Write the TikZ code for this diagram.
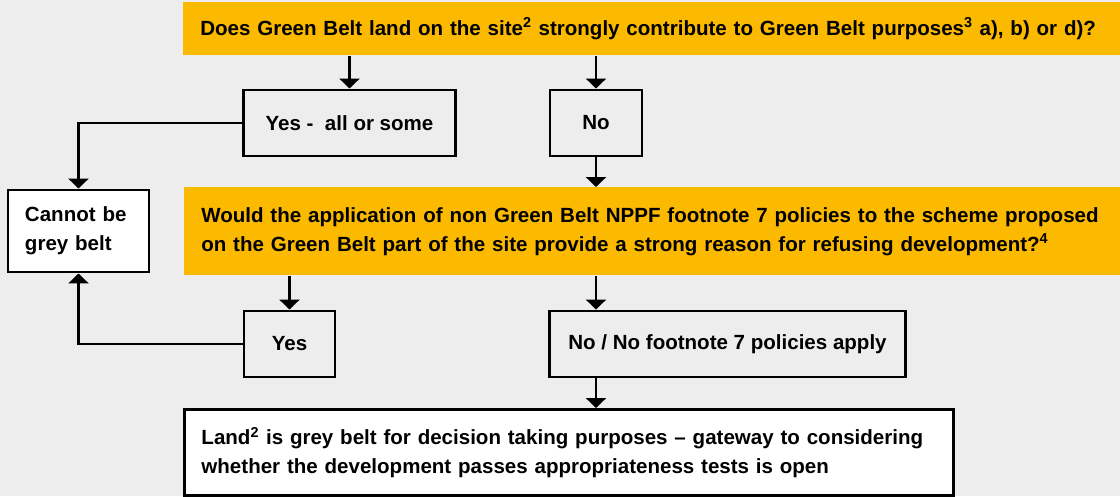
\documentclass[tikz,border=0pt]{standalone}
\usepackage{fontspec}
\setmainfont{Liberation Sans}
\usetikzlibrary{arrows.meta}

\definecolor{beltyellow}{HTML}{FBB900}
\definecolor{beltgrey}{HTML}{EDEDED}

\tikzset{
  every node/.style={font=\fontsize{14.6pt}{20.6pt}\selectfont\bfseries},
  question/.style={fill=beltyellow, inner xsep=0.425cm, align=left, anchor=north west},
  answer/.style={draw, line width=2.1pt, fill=beltgrey, minimum height=1.65cm},
  outcome/.style={draw, line width=2.1pt, fill=white, inner xsep=0.425cm, align=left},
  link/.style={line width=1.8pt, -{Triangle[width=0.5cm,length=0.25cm]}}
}

\begin{document}
\begin{tikzpicture}[x=0.025cm, y=-0.025cm]
  \fill[beltgrey] (0,0) rectangle (1120,496);
  \useasboundingbox (0,0) rectangle (1120,496);

  % questions
  \node[question, text width=22.7cm, minimum height=1.325cm] (q1) at (183,2)
    {Does Green Belt land on the site\textsuperscript{2} strongly contribute to Green Belt purposes\textsuperscript{3} a), b) or d)?};
  \node[question, text width=22.7cm, minimum height=2.2cm] (q2) at (184,187)
    {Would the application of non Green Belt NPPF footnote 7 policies to the scheme proposed\\
     on the Green Belt part of the site provide a strong reason for refusing development?\textsuperscript{4}};

  % answers
  \node[answer, minimum width=5.275cm] (yesA) at (349.5,123) {Yes -~ all or some};
  \node[answer, minimum width=2.3cm] (noA) at (596,123) {No};
  \node[answer, minimum width=2.275cm] (yesB) at (289.5,344) {Yes};
  \node[answer, minimum width=8.875cm] (noB) at (727.5,344) {No / No footnote 7 policies apply};

  % outcomes
  \node[outcome, text width=2.675cm, minimum width=3.525cm, minimum height=2.05cm] (cannot) at (78.5,231)
    {Cannot be\\grey belt};
  \node[outcome, anchor=north west, text width=18.375cm, minimum height=2.15cm] (land) at (183,408)
    {Land\textsuperscript{2} is grey belt for decision taking purposes -- gateway to considering\\
     whether the development passes appropriateness tests is open};

  % connectors
  \draw[link] (q1.south -| yesA.north) -- (yesA.north);
  \draw[link] (q1.south -| noA.north) -- (noA.north);
  \draw[link] (noA.south) -- (noA.south |- q2.north);
  \draw[link] (yesA.west) -| (cannot.north);
  \draw[link] (q2.south -| yesB.north) -- (yesB.north);
  \draw[link] (q2.south -| noA.south) -- (noB.north -| noA.south);
  \draw[link] (yesB.west) -| (cannot.south);
  \draw[link] (noB.south -| noA.south) -- (land.north -| noA.south);
\end{tikzpicture}
\end{document}
